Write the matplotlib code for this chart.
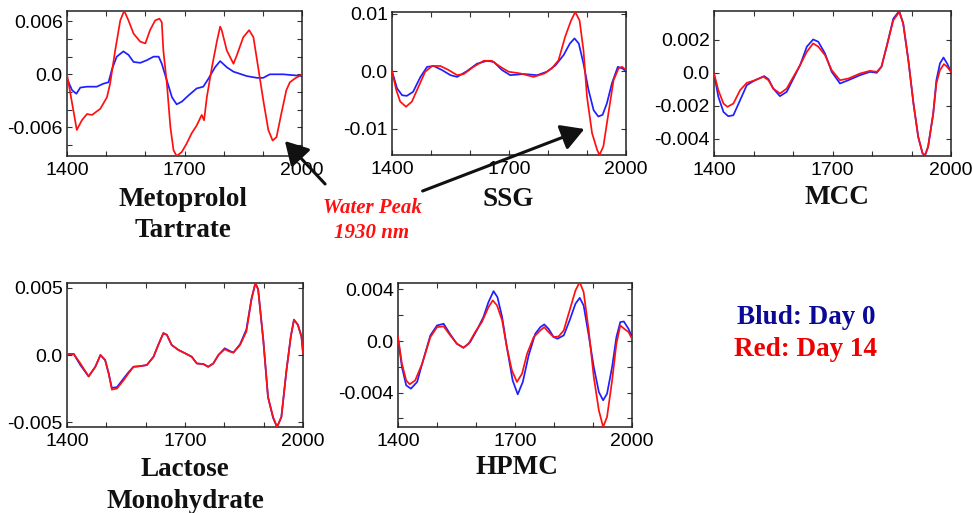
import numpy as np
import matplotlib
matplotlib.use("Agg")
import matplotlib.pyplot as plt
from matplotlib.patches import FancyArrowPatch
from matplotlib.ticker import FixedLocator, FixedFormatter, MultipleLocator

S = 1e-3  # values below are in thousandths

# ---------------- Metoprolol Tartrate ----------------
met_red_x = [1400, 1425, 1438, 1451, 1464, 1485, 1502, 1510, 1523, 1536, 1546, 1557, 1570, 1587, 1600,
             1612, 1625, 1636, 1642, 1646, 1655, 1664, 1672, 1680, 1693, 1706, 1718, 1731, 1744, 1750,
             1757, 1770, 1783, 1791, 1795, 1808, 1825, 1834, 1850, 1865, 1876, 1888, 1901, 1914, 1925,
             1935, 1947, 1960, 1969, 1981, 2000]
met_red_y = [0.0, -6.3, -5.2, -4.5, -4.6, -3.9, -2.6, -1.06, 2.7, 6.1, 7.2, 6.1, 4.6, 3.7, 3.5,
             5.0, 6.1, 6.3, 5.9, 2.7, -1.06, -6.0, -8.6, -9.25, -8.8, -7.8, -6.7, -5.8, -4.6, -5.2,
             -2.6, 0.8, 3.8, 5.4, 5.0, 2.7, 1.2, 2.2, 4.2, 5.0, 4.2, 0.8, -2.9, -6.3, -7.5,
             -7.1, -4.5, -1.8, -0.9, -0.5, 0.0]
met_blue_x = [1400, 1413, 1424, 1434, 1451, 1476, 1493, 1506, 1515, 1527, 1544, 1557, 1570, 1587, 1604,
              1621, 1634, 1642, 1655, 1668, 1680, 1693, 1710, 1731, 1748, 1761, 1778, 1791, 1808, 1825,
              1859, 1885, 1901, 1918, 1952, 1978, 2000]
met_blue_y = [-0.5, -1.8, -2.2, -1.5, -1.4, -1.4, -1.06, -0.9, 0.6, 2.0, 2.6, 2.2, 1.4, 1.3, 1.6,
              2.0, 2.0, 1.2, -0.7, -2.6, -3.4, -3.1, -2.4, -1.6, -1.4, -0.5, 0.8, 1.5, 0.8, 0.3,
              -0.2, -0.4, -0.4, 0.0, 0.0, -0.1, -0.2]

# ---------------- SSG ----------------
ssg_red_x = [1400, 1411, 1421, 1436, 1451, 1468, 1485, 1503, 1524, 1545, 1567, 1584, 1609, 1635, 1656,
             1678, 1699, 1729, 1763, 1791, 1810, 1827, 1844, 1859, 1870, 1881, 1891, 1900, 1913, 1926,
             1932, 1942, 1955, 1968, 1981, 1990, 2000]
ssg_red_y = [0.0, -3.3, -5.3, -6.2, -5.3, -2.7, -0.1, 0.9, 0.9, 0.2, -0.7, -0.5, 0.75, 1.8, 1.8,
             0.75, -0.1, -0.4, -1.0, -0.4, 0.5, 1.9, 6.0, 8.8, 10.3, 8.8, 3.6, -4.5, -10.8, -13.7,
             -14.6, -13.1, -7.3, -1.6, 0.5, 0.75, 0.2]
ssg_blue_x = [1400, 1413, 1426, 1438, 1454, 1473, 1490, 1507, 1528, 1550, 1567, 1592, 1618, 1644, 1661,
              1682, 1703, 1738, 1772, 1797, 1819, 1840, 1856, 1868, 1879, 1891, 1904, 1917, 1929, 1940,
              1951, 1964, 1979, 1990, 2000]
ssg_blue_y = [0.0, -3.0, -4.2, -4.3, -3.6, -1.0, 0.75, 0.9, 0.2, -0.7, -1.0, 0.0, 1.3, 1.8, 1.6,
              0.2, -0.7, -0.5, -0.7, -0.1, 1.0, 2.8, 4.8, 5.7, 4.8, 1.3, -3.3, -6.8, -7.9, -7.6,
              -5.6, -2.1, 0.75, 0.5, 0.0]

# ---------------- MCC ----------------
mcc_red_x = [1400, 1411, 1424, 1434, 1449, 1466, 1483, 1504, 1525, 1538, 1550, 1567, 1584, 1601, 1618,
             1635, 1651, 1664, 1681, 1698, 1719, 1740, 1770, 1795, 1812, 1824, 1837, 1854, 1869, 1879,
             1892, 1905, 1917, 1928, 1934, 1942, 1955, 1963, 1972, 1982, 1990, 2000]
mcc_red_y = [-0.04, -1.06, -1.87, -2.07, -1.87, -1.06, -0.61, -0.45, -0.24, -0.45, -0.96, -1.26, -0.96, -0.24, 0.47,
             1.28, 1.79, 1.59, 1.08, 0.16, -0.45, -0.35, -0.04, 0.12, 0.06, 0.37, 1.59, 3.2, 3.7, 3.0,
             0.77, -1.87, -3.9, -4.9, -5.0, -4.5, -2.48, -0.65, 0.16, 0.53, 0.37, 0.06]
mcc_blue_x = [1400, 1411, 1424, 1436, 1449, 1466, 1483, 1504, 1527, 1538, 1550, 1567, 1584, 1601, 1618,
              1635, 1651, 1664, 1681, 1698, 1719, 1740, 1770, 1795, 1812, 1824, 1837, 1854, 1869, 1879,
              1892, 1905, 1917, 1928, 1934, 1942, 1955, 1963, 1972, 1981, 1990, 2000]
mcc_blue_y = [-0.04, -1.46, -2.38, -2.64, -2.58, -1.67, -0.75, -0.45, -0.2, -0.39, -0.96, -1.42, -1.16, -0.35, 0.47,
              1.59, 2.03, 1.89, 1.18, 0.06, -0.65, -0.45, -0.14, 0.06, 0.0, 0.37, 1.59, 3.3, 3.76, 3.0,
              0.77, -1.87, -3.9, -4.9, -5.06, -4.5, -2.48, -0.45, 0.57, 0.93, 0.57, 0.06]

# ---------------- Lactose Monohydrate ----------------
lac_x = [1400, 1417, 1434, 1455, 1472, 1485, 1497, 1506, 1514, 1527, 1544, 1556, 1569, 1586, 1603,
         1620, 1632, 1645, 1654, 1666, 1683, 1700, 1717, 1730, 1747, 1759, 1772, 1785, 1801, 1814,
         1823, 1840, 1856, 1869, 1879, 1886, 1899, 1911, 1924, 1934, 1945, 1958, 1969, 1977, 1987,
         1996, 2000]
lac_red_y = [0.08, 0.08, -0.63, -1.6, -0.88, 0.0, -0.38, -1.38, -2.58, -2.5, -1.88, -1.38, -0.88, -0.83, -0.75,
             -0.13, 0.75, 1.63, 1.5, 0.75, 0.38, 0.13, -0.13, -0.63, -0.68, -0.88, -0.63, 0.0, 0.43, 0.25,
             0.18, 0.75, 1.75, 4.13, 5.37, 4.88, 1.13, -3.13, -4.63, -5.37, -4.63, -1.13, 1.38, 2.63, 2.25,
             1.38, 0.13]
lac_blue_y = [0.08, 0.08, -0.75, -1.6, -0.88, 0.0, -0.38, -1.38, -2.45, -2.4, -1.75, -1.3, -0.88, -0.83, -0.75,
              -0.13, 0.75, 1.63, 1.5, 0.75, 0.38, 0.13, -0.13, -0.63, -0.68, -0.88, -0.63, 0.0, 0.5, 0.3,
              0.18, 0.8, 1.9, 4.2, 5.37, 4.88, 1.13, -3.13, -4.7, -5.37, -4.63, -1.13, 1.38, 2.63, 2.25,
              1.38, 0.13]

# ---------------- HPMC ----------------
hpmc_red_x = [1400, 1410, 1421, 1430, 1444, 1462, 1483, 1500, 1517, 1534, 1551, 1568, 1581, 1598, 1615,
              1632, 1643, 1654, 1667, 1679, 1692, 1705, 1718, 1731, 1748, 1765, 1775, 1786, 1799, 1812,
              1825, 1840, 1855, 1866, 1876, 1889, 1902, 1915, 1926, 1936, 1949, 1960, 1970, 1980, 1991,
              2000]
hpmc_red_y = [0.31, -1.75, -3.05, -3.35, -3.05, -1.75, 0.31, 1.08, 1.14, 0.44, -0.21, -0.52, -0.21, 0.7, 1.47,
              2.63, 3.15, 2.76, 1.6, -0.46, -2.27, -3.17, -2.53, -0.98, 0.31, 0.83, 1.08, 0.7, 0.31, 0.36,
              0.83, 2.37, 3.92, 4.57, 3.79, 0.83, -2.79, -5.37, -6.66, -5.88, -3.05, -0.21, 1.21, 0.95, 0.7,
              0.18]
hpmc_blue_x = [1400, 1410, 1421, 1433, 1449, 1462, 1483, 1500, 1517, 1534, 1551, 1568, 1585, 1602, 1619,
               1632, 1645, 1655, 1667, 1679, 1694, 1707, 1720, 1735, 1752, 1765, 1775, 1786, 1799, 1809,
               1825, 1840, 1855, 1866, 1876, 1889, 1902, 1915, 1926, 1936, 1949, 1960, 1970, 1979, 1991,
               2000]
hpmc_blue_y = [0.18, -2.0, -3.43, -3.69, -3.17, -1.75, 0.44, 1.21, 1.34, 0.52, -0.21, -0.52, -0.08, 0.83, 1.86,
               3.02, 3.87, 3.4, 1.86, -0.46, -3.05, -4.13, -3.17, -1.11, 0.57, 1.08, 1.29, 0.95, 0.31, 0.18,
               0.44, 1.6, 2.89, 3.35, 2.76, 0.44, -2.01, -3.95, -4.59, -4.08, -2.01, 0.31, 1.47, 1.52, 0.95,
               0.31]

panel_names = [["Metoprolol", "Tartrate"], ["SSG"], ["MCC"], ["Lactose", "Monohydrate"], ["HPMC"]]
x_ticks = [1400, 1700, 2000]
x_tick_labels = ["1400", "1700", "2000"]
y_ticks = [[0.006, 0.0, -0.006], [0.01, 0.0, -0.01], [0.002, 0.0, -0.002, -0.004],
           [0.005, 0.0, -0.005], [0.004, 0.0, -0.004]]
y_tick_labels = [["0.006", "0.0", "-0.006"], ["0.01", "0.0", "-0.01"], ["0.002", "0.0", "-0.002", "-0.004"],
                 ["0.005", "0.0", "-0.005"], ["0.004", "0.0", "-0.004"]]
y_minor = [0.002, None, None, None, 0.002]
y_lims = [(-0.00925, 0.00717), (-0.0146, 0.0103), (-0.00506, 0.00376), (-0.00537, 0.00537), (-0.00666, 0.0045)]
legend_labels = ["Blud: Day 0", "Red: Day 14"]
annotation_lines = ["Water Peak", "1930 nm"]

series = [
    (met_blue_x, met_blue_y, met_red_x, met_red_y),
    (ssg_blue_x, ssg_blue_y, ssg_red_x, ssg_red_y),
    (mcc_blue_x, mcc_blue_y, mcc_red_x, mcc_red_y),
    (lac_x, lac_blue_y, lac_x, lac_red_y),
    (hpmc_blue_x, hpmc_blue_y, hpmc_red_x, hpmc_red_y),
]

W, H = 973, 513
fig = plt.figure(figsize=(W / 100, H / 100), dpi=100)

# axes boxes in pixels: left, top, right, bottom
boxes = [(67, 11, 302, 156), (392, 12, 626, 155), (714, 11, 951, 156),
         (67, 283, 303, 427), (398, 283, 632, 427)]
# label centers in pixels (x, y of first line)
label_pos = [(183, 200), (508, 200), (837, 198), (185, 470), (517, 468)]

BLUE = "#1f1fff"
RED = "#ff1010"
sans = ["Liberation Sans", "DejaVu Sans"]
serif = ["Liberation Serif", "DejaVu Serif"]

def fx(px):
    return px / W

def fy(py):
    return 1 - py / H

for i, (bx, by, rx, ry) in enumerate(series):
    l, t, r, b = boxes[i]
    ax = fig.add_axes([fx(l), fy(b), (r - l) / W, (b - t) / H])
    ax.plot(bx, np.array(by) * S, color=BLUE, lw=1.25, zorder=2)
    ax.plot(rx, np.array(ry) * S, color=RED, lw=1.25, zorder=3)
    ax.set_xlim(1400, 2000)
    ax.set_ylim(*y_lims[i])
    ax.xaxis.set_major_locator(FixedLocator(x_ticks))
    ax.xaxis.set_major_formatter(FixedFormatter(x_tick_labels))
    ax.xaxis.set_minor_locator(MultipleLocator(100))
    ax.yaxis.set_major_locator(FixedLocator(y_ticks[i]))
    ax.yaxis.set_major_formatter(FixedFormatter(y_tick_labels[i]))
    if y_minor[i]:
        ax.yaxis.set_minor_locator(MultipleLocator(y_minor[i]))
    ax.tick_params(which="both", direction="in", top=True, right=True, length=3.5, width=0.8,
                   color="#333333")
    ax.tick_params(axis="y", pad=3, labelsize=14)
    ax.tick_params(axis="x", pad=4, labelsize=14)
    for lab in ax.get_xticklabels() + ax.get_yticklabels():
        lab.set_family(sans)
    for sp in ax.spines.values():
        sp.set_linewidth(1.1)
        sp.set_color("#222222")
    cx, cy = label_pos[i]
    for k, line in enumerate(panel_names[i]):
        fig.text(fx(cx), fy(cy + 31 * k), line, ha="center", va="center", fontsize=19.5,
                 fontweight="bold", family=serif, color="#111111")

# Water peak annotation
for k, line in enumerate(annotation_lines):
    fig.text(fx(372), fy(208 + 25 * k), line, ha="center", va="center", fontsize=15,
             fontweight="bold", fontstyle="italic", family=serif, color="#ff1010")

for (x0, y0), (x1, y1) in [((327, 186), (283, 139)), ((420, 192), (587, 128))]:
    arr = FancyArrowPatch((fx(x0), fy(y0)), (fx(x1), fy(y1)), transform=fig.transFigure,
                          arrowstyle="-|>,head_length=0.7,head_width=0.4", mutation_scale=20,
                          lw=2.2, color="#111111", zorder=10)
    fig.add_artist(arr)

# legend text
fig.text(fx(806), fy(318), legend_labels[0], ha="center", va="center", fontsize=19.5,
         fontweight="bold", family=serif, color="#0a0a96")
fig.text(fx(806), fy(350), legend_labels[1], ha="center", va="center", fontsize=19.5,
         fontweight="bold", family=serif, color="#ee0000")

fig.savefig("out.png", dpi=100)
